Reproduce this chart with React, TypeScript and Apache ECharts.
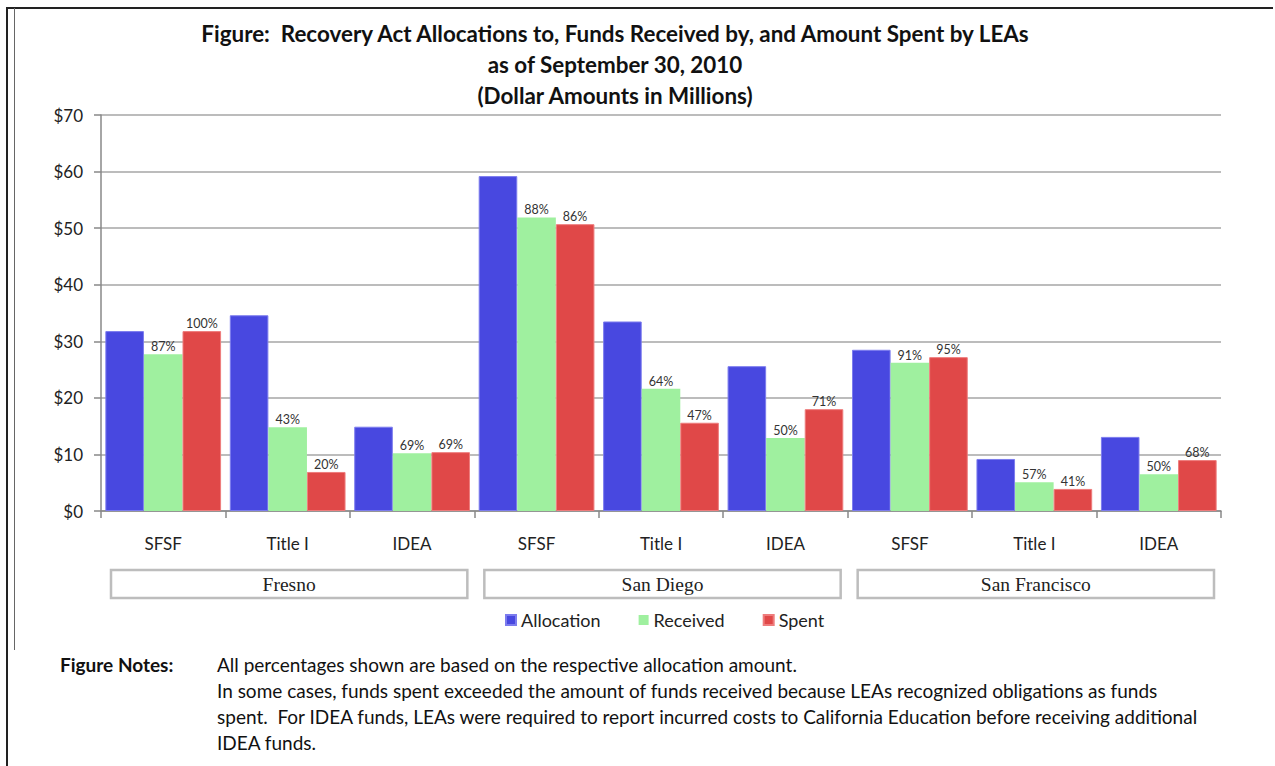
import React, { useEffect, useRef } from "react";
import * as echarts from "echarts";

const categories = ["SFSF", "Title I", "IDEA", "SFSF", "Title I", "IDEA", "SFSF", "Title I", "IDEA"];
const districts = ["Fresno", "San Diego", "San Francisco"];
const seriesNames = ["Allocation", "Received", "Spent"];
const allocation = [31.8, 34.6, 14.9, 59.2, 33.5, 25.6, 28.5, 9.2, 13.1];
const received = [27.7, 14.8, 10.2, 51.9, 21.6, 12.9, 26.2, 5.1, 6.5];
const spent = [31.8, 6.9, 10.4, 50.7, 15.6, 18.0, 27.2, 3.9, 9.0];
const receivedPct = ["87%", "43%", "69%", "88%", "64%", "50%", "91%", "57%", "50%"];
const spentPct = ["100%", "20%", "69%", "86%", "47%", "71%", "95%", "41%", "68%"];
const yTickLabels = ["$0", "$10", "$20", "$30", "$40", "$50", "$60", "$70"];
const titleLines = [
  "Figure:  Recovery Act Allocations to, Funds Received by, and Amount Spent by LEAs",
  "as of September 30, 2010",
  "(Dollar Amounts in Millions)",
];
const noteHead = "Figure Notes:";
const noteLines = [
  "All percentages shown are based on the respective allocation amount.",
  "In some cases, funds spent exceeded the amount of funds received because LEAs recognized obligations as funds",
  "spent.  For IDEA funds, LEAs were required to report incurred costs to California Education before receiving additional",
  "IDEA funds.",
];

const colors = ["#4848e0", "#9ff09f", "#e04848"];
const FONT = "Lato, 'Open Sans', sans-serif";

export default function App() {
  const ref = useRef<HTMLDivElement>(null);
  useEffect(() => {
    if (!ref.current) return;
    const chart = echarts.init(ref.current, null, { renderer: "svg" });
    const labelStyle = {
      show: true,
      position: "top" as const,
      distance: 1,
      fontSize: 12.5,
      color: "#333",
      fontFamily: FONT,
    };
    chart.setOption({
      animation: false,
      backgroundColor: "#ffffff",
      textStyle: { fontFamily: FONT },
      grid: { left: 101, right: 54, top: 115, bottom: 255, containLabel: false },
      legend: {
        data: seriesNames,
        left: 505,
        top: 611,
        padding: 0,
        itemWidth: 10,
        itemHeight: 10,
        itemGap: 38,
        icon: "rect",
        textStyle: { fontSize: 18, color: "#222", fontFamily: FONT },
      },
      xAxis: {
        type: "category",
        data: categories,
        boundaryGap: true,
        axisLine: { show: true, lineStyle: { color: "#888", width: 1.5 } },
        axisTick: { show: true, length: 7, alignWithLabel: false, lineStyle: { color: "#888", width: 1.5 } },
        axisLabel: { margin: 24, fontSize: 17, color: "#222", fontFamily: FONT, interval: 0 },
      },
      yAxis: {
        type: "value",
        min: 0,
        max: 70,
        interval: 10,
        axisLine: { show: true, lineStyle: { color: "#888", width: 1.5 } },
        axisTick: { show: true, length: 7, lineStyle: { color: "#888", width: 1.5 } },
        axisLabel: {
          margin: 18,
          fontSize: 17,
          color: "#222",
          fontFamily: FONT,
          formatter: (v: number) => yTickLabels[Math.round(v / 10)],
        },
        splitLine: { show: true, lineStyle: { color: "#a6a6a6", width: 1.5 } },
      },
      series: [
        {
          name: seriesNames[0],
          type: "bar",
          data: allocation,
          barGap: "0%",
          barCategoryGap: "7%",
          itemStyle: { color: colors[0], borderColor: "#7c7cee", borderWidth: 1 },
        },
        {
          name: seriesNames[1],
          type: "bar",
          data: received,
          barGap: "0%",
          barCategoryGap: "7%",
          itemStyle: { color: colors[1] },
          label: { ...labelStyle, formatter: (p: any) => receivedPct[p.dataIndex] },
        },
        {
          name: seriesNames[2],
          type: "bar",
          data: spent,
          barGap: "0%",
          barCategoryGap: "7%",
          itemStyle: { color: colors[2], borderColor: "#ee7c7c", borderWidth: 1 },
          label: { ...labelStyle, formatter: (p: any) => spentPct[p.dataIndex] },
        },
      ],
    });

    const c0 = chart.convertToPixel({ xAxisIndex: 0 }, 0) as number;
    const c1 = chart.convertToPixel({ xAxisIndex: 0 }, 1) as number;
    const band = c1 - c0;
    const start = c0 - band / 2;

    const graphic: any[] = [];
    // frame
    graphic.push({ type: "line", shape: { x1: 7, y1: 8, x2: 1273, y2: 8 }, style: { stroke: "#222", lineWidth: 2 } });
    graphic.push({ type: "line", shape: { x1: 7, y1: 7, x2: 7, y2: 766 }, style: { stroke: "#222", lineWidth: 2 } });
    graphic.push({ type: "line", shape: { x1: 14.5, y1: 8, x2: 14.5, y2: 650 }, style: { stroke: "#666", lineWidth: 1 } });
    // title
    titleLines.forEach((t, i) => {
      graphic.push({
        type: "text",
        x: 615,
        y: 33 + i * 31,
        style: {
          text: t,
          textAlign: "center",
          textVerticalAlign: "middle",
          fontSize: 22.4,
          fontWeight: "bold",
          fontFamily: FONT,
          fill: "#111",
        },
      });
    });
    // district boxes
    districts.forEach((d, i) => {
      const x0 = start + i * 3 * band + 10;
      const x1 = start + (i + 1) * 3 * band - 7;
      graphic.push({
        type: "rect",
        shape: { x: x0, y: 570, width: x1 - x0, height: 28 },
        style: { fill: "#fff", stroke: "#bdbdbd", lineWidth: 2.5 },
      });
      graphic.push({
        type: "text",
        x: (x0 + x1) / 2,
        y: 584,
        style: {
          text: d,
          textAlign: "center",
          textVerticalAlign: "middle",
          fontSize: 19.5,
          fontFamily: "'Liberation Serif', 'DejaVu Serif', serif",
          fill: "#222",
        },
      });
    });
    // notes
    graphic.push({
      type: "text",
      x: 60,
      y: 664,
      style: {
        text: noteHead,
        textVerticalAlign: "middle",
        fontSize: 19,
        fontWeight: "bold",
        fontFamily: FONT,
        fill: "#111",
      },
    });
    noteLines.forEach((t, i) => {
      graphic.push({
        type: "text",
        x: 217,
        y: 664 + i * 26,
        style: {
          text: t,
          textVerticalAlign: "middle",
          fontSize: 19,
          fontFamily: FONT,
          fill: "#111",
        },
      });
    });
    chart.setOption({ graphic });

    return () => chart.dispose();
  }, []);
  return (
    <div
      ref={ref}
      style={{ position: "absolute", left: 0, top: 0, width: 1275, height: 766, background: "#fff" }}
    />
  );
}
